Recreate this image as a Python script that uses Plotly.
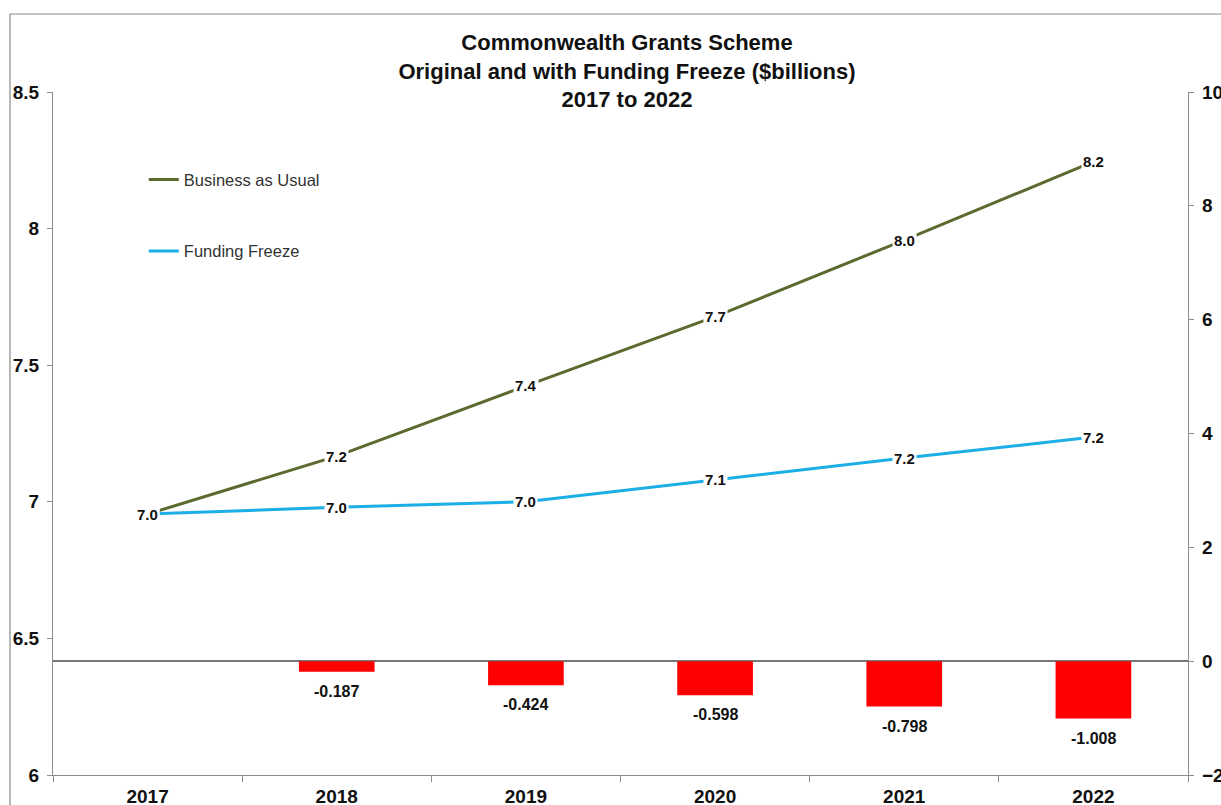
import plotly.graph_objects as go

years = ["2017", "2018", "2019", "2020", "2021", "2022"]
business_as_usual = [6.955, 7.167, 7.424, 7.678, 7.958, 8.245]
funding_freeze = [6.955, 6.980, 7.000, 7.080, 7.160, 7.237]
difference = [None, -0.187, -0.424, -0.598, -0.798, -1.008]

FONT = "Arial, Liberation Sans, sans-serif"
OLIVE = "#5B6A2E"
BLUE = "#1CAEE6"
AXIS = "#8C8C8C"

fig = go.Figure()

fig.add_trace(go.Scatter(
    x=years, y=business_as_usual, name="Business as Usual", mode="lines",
    line=dict(color=OLIVE, width=3), legendgroup="a", yaxis="y"))
fig.add_trace(go.Scatter(
    x=years, y=funding_freeze, name="Funding Freeze", mode="lines",
    line=dict(color=BLUE, width=3), legendgroup="b", yaxis="y"))
fig.add_trace(go.Bar(
    x=years, y=difference, name="Difference", yaxis="y2", width=0.4,
    marker=dict(color="#FF0000", line=dict(width=0)),
    showlegend=False))

# value labels on the lines, with a white backing so the line breaks around them
for series in (business_as_usual, funding_freeze):
    for i, v in enumerate(series):
        fig.add_annotation(
            x=i, y=v, xref="x", yref="y", text=f"<b>{v:.1f}</b>",
            showarrow=False, bgcolor="white", borderpad=1,
            font=dict(family=FONT, size=15, color="#111111"))

# value labels beneath the difference bars
for i, v in enumerate(difference):
    if v is None:
        continue
    fig.add_annotation(
        x=i, y=v, xref="x", yref="y2", text=f"<b>{v:.3f}</b>",
        showarrow=False, yanchor="top", yshift=-9,
        font=dict(family=FONT, size=16, color="#111111"))

# outer chart frame
fig.add_shape(type="rect", xref="paper", yref="paper",
              x0=(10 - 53) / 1135, x1=1.06, y0=-0.1, y1=1 + (92 - 14) / 683,
              line=dict(color="#8A8A8A", width=1.2), fillcolor="rgba(0,0,0,0)",
              layer="below")

fig.update_layout(
    width=1221, height=805,
    margin=dict(l=53, r=33, t=92, b=30, autoexpand=False),
    paper_bgcolor="white", plot_bgcolor="white",
    font=dict(family=FONT, color="#111111"),
    title=dict(
        text="<b>Commonwealth Grants Scheme<br>Original and with Funding Freeze ($billions)<br>2017 to 2022</b>",
        x=627 / 1221, xanchor="center", y=1 - 50 / 805, yanchor="top",
        font=dict(family=FONT, size=22, color="#111111")),
    showlegend=True,
    legend=dict(x=0.08, y=0.897, xanchor="left", yanchor="top",
                bgcolor="rgba(0,0,0,0)", tracegroupgap=47,
                traceorder="grouped", itemwidth=30,
                font=dict(family=FONT, size=16.5, color="#333333")),
    xaxis=dict(
        type="category", range=[-0.5, 5.5], automargin=False,
        showline=True, linecolor=AXIS, linewidth=1.2,
        ticks="outside", tickson="boundaries", ticklen=6, tickcolor=AXIS,
        showgrid=False, zeroline=False, tickangle=0, ticklabelstandoff=4,
        tickfont=dict(family=FONT, size=19, color="#111111"),
        tickprefix="<b>", ticksuffix="</b>"),
    yaxis=dict(
        range=[6, 8.5], dtick=0.5, automargin=False,
        showline=True, linecolor=AXIS, linewidth=1.2,
        ticks="outside", ticklen=5, tickcolor=AXIS, showgrid=False, zeroline=False,
        ticklabelstandoff=4,
        tickfont=dict(family=FONT, size=19, color="#111111"),
        tickprefix="<b>", ticksuffix="</b>"),
    yaxis2=dict(
        range=[-2, 10], dtick=2, overlaying="y", side="right", automargin=False,
        showline=True, linecolor=AXIS, linewidth=1.2,
        ticks="outside", ticklen=5, tickcolor=AXIS, showgrid=False,
        zeroline=True, zerolinecolor="#777777", zerolinewidth=1.5,
        ticklabelstandoff=4,
        tickfont=dict(family=FONT, size=19, color="#111111"),
        tickprefix="<b>", ticksuffix="</b>"),
)

fig.write_html("out.html")
